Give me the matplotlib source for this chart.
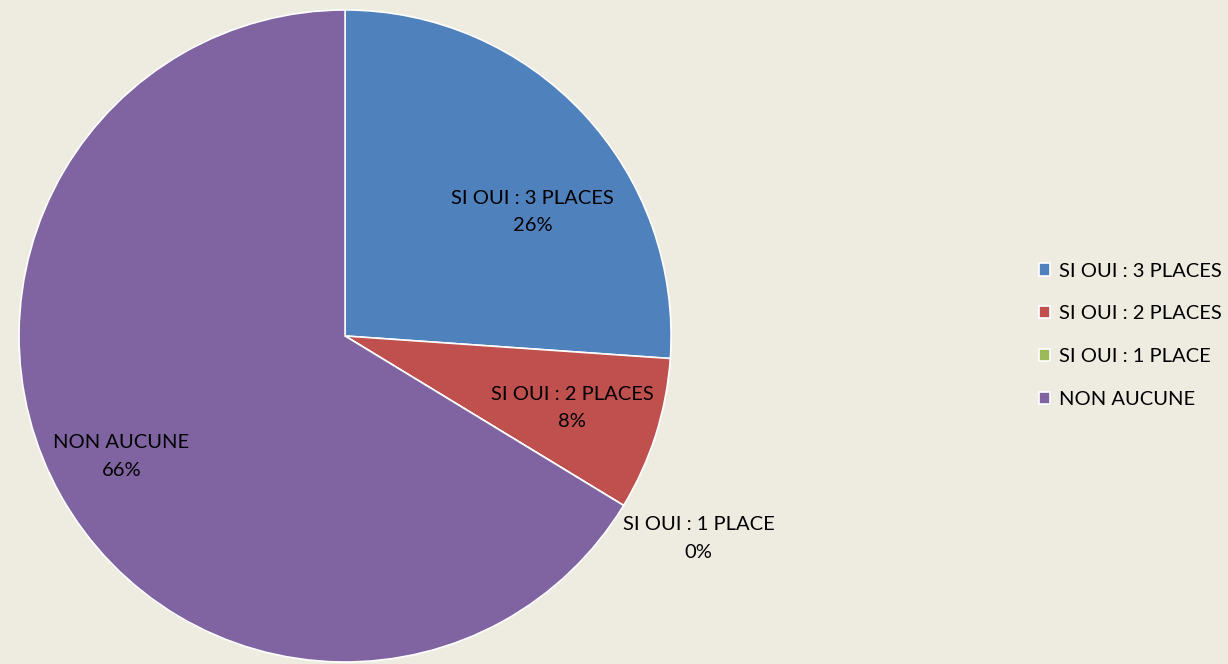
import numpy as np
import matplotlib.pyplot as plt

labels = ["SI OUI : 3 PLACES", "SI OUI : 2 PLACES", "SI OUI : 1 PLACE", "NON AUCUNE"]
values = [26.1, 7.6, 0.0, 66.3]
colors = ["#4F81BD", "#C0504D", "#9BBB59", "#8064A2"]

# label placement (radius as fraction of pie radius, angle shift in degrees)
label_radius = [0.69, 0.73, 1.25, 0.78]
label_shift = [-9.5, 0.0, 1.5, -1.0]

bg = "#EEECE1"
plt.rcParams['font.family'] = ['Lato', 'DejaVu Sans']

fig = plt.figure(figsize=(12.28, 6.64), dpi=100, facecolor=bg)
ax = fig.add_axes([0.0155, 0.003, 0.531, 0.982])
ax.set_facecolor(bg)

wedges, _ = ax.pie(values, colors=colors, startangle=90, counterclock=False,
                   wedgeprops=dict(edgecolor="white", linewidth=1.2))
ax.set_xlim(-1, 1)
ax.set_ylim(-1, 1)
ax.set_aspect("auto")
ax.axis("off")

total = sum(values)
for w, lab, v, r, s in zip(wedges, labels, values, label_radius, label_shift):
    ang = np.deg2rad((w.theta1 + w.theta2) / 2 + s)
    ax.text(r * np.cos(ang), r * np.sin(ang), f"{lab}\n{v / total * 100:.0f}%",
            ha="center", va="center", fontsize=14.5, linespacing=1.75, color="black")

fig.legend(wedges, labels, loc="center left", bbox_to_anchor=(0.831, 0.495),
           frameon=False, fontsize=14.5, handlelength=0.55, handleheight=0.55,
           handletextpad=0.45, labelspacing=1.28)

fig.savefig("out.png", dpi=100, facecolor=bg)
